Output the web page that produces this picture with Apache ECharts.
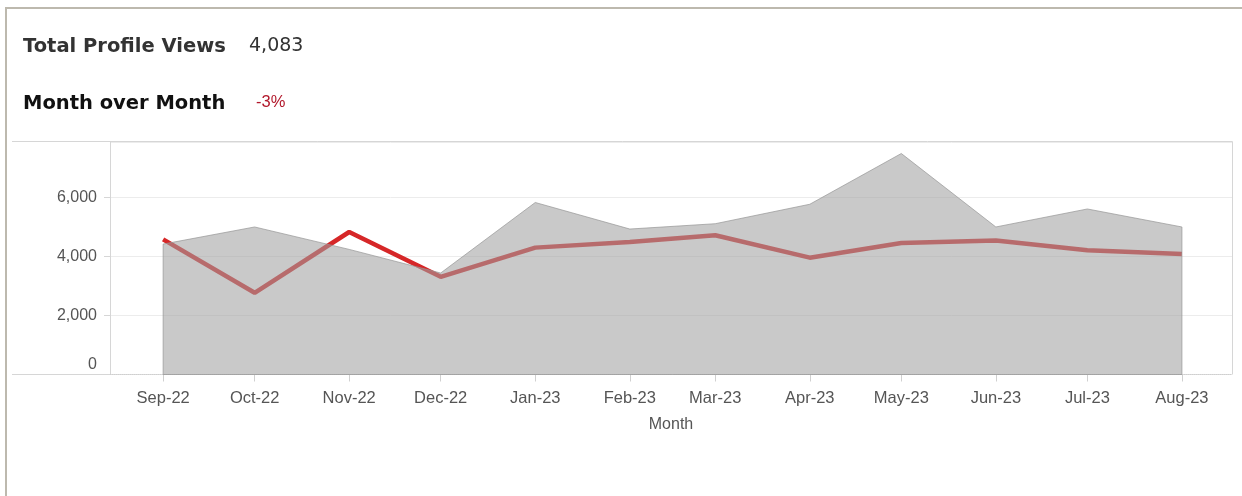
<!DOCTYPE html>
<html>
<head>
<meta charset="utf-8">
<script src="https://cdn.jsdelivr.net/npm/echarts@6/dist/echarts.min.js"></script>
<style>
  html, body { margin: 0; padding: 0; background: #fff; }
  #frame {
    position: absolute; left: 5px; top: 7px; right: 0; bottom: 0;
    border-top: 2px solid #bdb9ae; border-left: 2px solid #bdb9ae;
    pointer-events: none;
  }
  #chart { position: absolute; left: 0; top: 0; width: 1242px; height: 496px; }
</style>
</head>
<body>
<div id="chart"></div>
<div id="frame"></div>
<script>
// months shown on the x axis (first day of each month)
const months = ['2022-09', '2022-10', '2022-11', '2022-12', '2023-01', '2023-02',
  '2023-03', '2023-04', '2023-05', '2023-06', '2023-07', '2023-08']
const monthNames = ['Jan', 'Feb', 'Mar', 'Apr', 'May', 'Jun', 'Jul', 'Aug', 'Sep', 'Oct', 'Nov', 'Dec']

// red line: profile views per month
const profileViews = [4580, 2770, 4830, 3310, 4300, 4490, 4720, 3960, 4460, 4540, 4210, 4083]
// gray area: comparison views per month
const benchmarkViews = [4420, 5000, 4240, 3440, 5830, 4930, 5110, 5770, 7490, 5000, 5610, 5000]

const yTicks = [0, 2000, 4000, 6000]

const dates = months.map(m => {
  const [y, mo] = m.split('-').map(Number)
  return new Date(y, mo - 1, 1).getTime()
})

const fmtMonth = v => {
  const d = new Date(v)
  return monthNames[d.getMonth()] + '-' + String(d.getFullYear()).slice(2)
}

const chart = echarts.init(document.getElementById('chart'), null, { renderer: 'canvas' })

const axisFont = { fontFamily: '"Liberation Sans", Arial, sans-serif', fontSize: 16, color: '#555' }

chart.setOption({
  animation: false,
  graphic: [
    { type: 'text', left: 23, top: 37, style: { text: 'Total Profile Views', font: 'bold 19.5px "DejaVu Sans"', fill: '#333' } },
    { type: 'text', left: 249, top: 37, style: { text: '4,083', font: '19px "DejaVu Sans"', fill: '#333' } },
    { type: 'text', left: 23, top: 94, style: { text: 'Month over Month', font: 'bold 19.5px "DejaVu Sans"', fill: '#111' } },
    { type: 'text', left: 256, top: 94, style: { text: '-3%', font: '16.5px "Liberation Sans"', fill: '#b2182b' } },
    // chart frame
    { type: 'polyline', silent: true, shape: { points: [[12, 141.5], [1232.5, 141.5], [1232.5, 374.5]] }, style: { stroke: '#d6d6d6', lineWidth: 1, fill: null } },
    { type: 'line', silent: true, shape: { x1: 12, y1: 374.5, x2: 110, y2: 374.5 }, style: { stroke: '#d6d6d6', lineWidth: 1 } }
  ],
  grid: { left: 110, right: 10, top: 142, bottom: 121.5 },
  xAxis: {
    type: 'value',
    min: new Date(2022, 7, 14, 14).getTime(),
    max: new Date(2023, 7, 17, 10).getTime(),
    name: 'Month',
    nameLocation: 'middle',
    nameGap: 42,
    nameTextStyle: axisFont,
    axisLine: { show: true, lineStyle: { color: '#cfcfcf', type: 'dotted' } },
    axisTick: { show: true, length: 7, lineStyle: { color: '#d0d0d0' }, customValues: dates },
    axisLabel: { ...axisFont, fontSize: 16.5, margin: 15, customValues: dates, formatter: fmtMonth },
    splitLine: { show: false }
  },
  yAxis: {
    type: 'value',
    min: 0,
    max: 7880,
    interval: 2000,
    axisLine: { show: true, lineStyle: { color: '#d6d6d6' } },
    axisTick: { show: true, length: 6, lineStyle: { color: '#d6d6d6' } },
    axisLabel: {
      ...axisFont,
      margin: 13,
      showMaxLabel: false,
      formatter: v => yTicks.includes(v) ? (v === 0 ? '{z|0}' : v.toLocaleString('en-US')) : '',
      rich: { z: { ...axisFont, padding: [0, 0, 20, 0] } }
    },
    splitLine: { lineStyle: { color: '#ececec' } }
  },
  series: [
    {
      name: 'Profile Views',
      type: 'line',
      data: dates.map((d, i) => [d, profileViews[i]]),
      symbol: 'none',
      lineStyle: { color: '#d62728', width: 4.5 },
      z: 2
    },
    {
      name: 'Benchmark',
      type: 'custom',
      data: [[dates[0], 0]],
      z: 3,
      renderItem: (params, api) => {
        const pts = [api.coord([dates[0], 0])]
        benchmarkViews.forEach((v, i) => pts.push(api.coord([dates[i], v])))
        pts.push(api.coord([dates[dates.length - 1], 0]))
        return {
          type: 'polygon',
          shape: { points: pts },
          style: { fill: 'rgba(160,160,160,0.57)', stroke: 'rgba(150,150,150,0.7)', lineWidth: 1 }
        }
      }
    }
  ]
})
</script>
</body>
</html>
